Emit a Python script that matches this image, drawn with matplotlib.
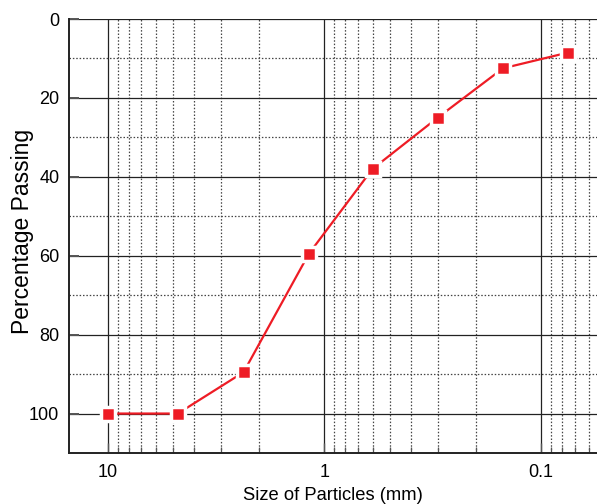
import matplotlib
matplotlib.use("Agg")
import matplotlib.pyplot as plt
from matplotlib.ticker import LogLocator, FixedLocator, NullFormatter, FixedFormatter

plt.rcParams['font.family'] = ['Liberation Sans', 'DejaVu Sans']

sizes = [10, 4.75, 2.36, 1.18, 0.6, 0.3, 0.15, 0.075]
passing = [100, 100, 89.5, 59.5, 38, 25, 12.5, 8.5]
x_ticks = [10, 1, 0.1]
x_tick_labels = ["10", "1", "0.1"]
y_ticks = [0, 20, 40, 60, 80, 100]

fig = plt.figure(figsize=(5.97, 5.04), dpi=100)
ax = fig.add_axes([0.1156, 0.1012, 0.8844, 0.8611])

ax.set_xscale('log')
ax.set_xlim(15.1, 0.0552)
ax.set_ylim(110, 0)

ax.xaxis.set_major_locator(FixedLocator(x_ticks))
ax.xaxis.set_major_formatter(FixedFormatter(x_tick_labels))
ax.xaxis.set_minor_locator(LogLocator(base=10, subs=[2, 3, 4, 5, 6, 7, 8, 9], numticks=20))
ax.xaxis.set_minor_formatter(NullFormatter())
ax.yaxis.set_major_locator(FixedLocator(y_ticks))
ax.yaxis.set_minor_locator(FixedLocator([10, 30, 50, 70, 90]))

ax.grid(True, which='major', color='#222222', linestyle='-', linewidth=0.9)
ax.grid(True, which='minor', color='#444444', linestyle=(0, (1.2, 1.5)), linewidth=0.9)
ax.set_axisbelow(True)

for s in ['top', 'right']:
    ax.spines[s].set_visible(False)
for s in ['left', 'bottom']:
    ax.spines[s].set_linewidth(1.4)
    ax.spines[s].set_color('#222222')

ax.tick_params(axis='x', which='major', direction='in', length=7, width=1.0, labelsize=13, pad=8, color='#555555')
ax.tick_params(axis='x', which='minor', direction='in', length=4, width=0.9, color='#555555')
ax.tick_params(axis='y', which='major', direction='in', length=7, width=1.4, labelsize=13, pad=7, color='#555555')
ax.tick_params(axis='y', which='minor', direction='in', length=0)

ax.plot(sizes, passing, color='#ee1c25', linewidth=1.6, marker='s', markersize=9.5,
        markerfacecolor='#ee1c25', markeredgecolor='white', markeredgewidth=2.5,
        clip_on=False, zorder=5)

ax.set_xlabel('Size of Particles (mm)', fontsize=13.2, labelpad=4)
ax.set_ylabel('Percentage Passing', fontsize=16.5)
ax.yaxis.set_label_coords(-0.066, 0.51)

fig.savefig('out.png', dpi=100)
